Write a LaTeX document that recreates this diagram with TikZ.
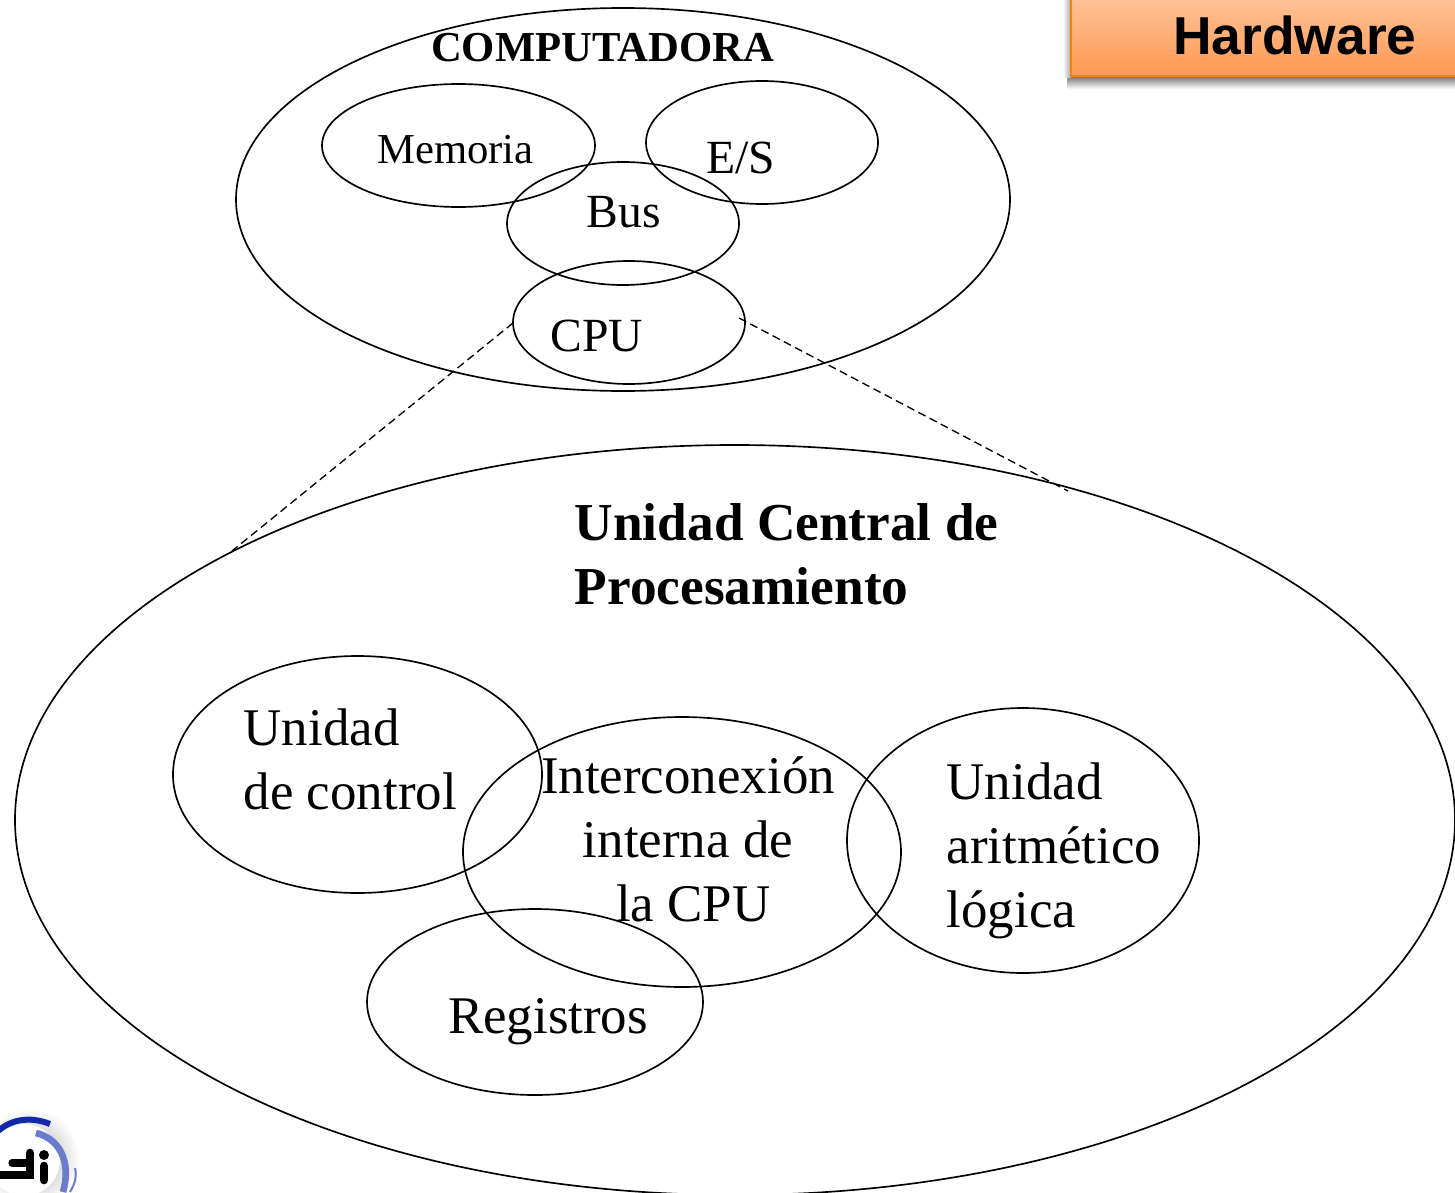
\documentclass[tikz,border=0pt]{standalone}
\usepackage{fontspec}
\setmainfont{Liberation Serif}
\newfontfamily\boxfont{Liberation Sans}
\usetikzlibrary{shapes.geometric}
\definecolor{boxtop}{RGB}{255,203,165}
\definecolor{boxbottom}{RGB}{255,153,82}
\definecolor{boxline}{RGB}{255,128,0}
\definecolor{logodark}{RGB}{20,40,170}
\definecolor{logolight}{RGB}{105,125,205}
\tikzset{
  oval/.style 2 args={ellipse,draw,line width=1.25pt,inner sep=0pt,minimum width=#1*0.75pt,minimum height=#2*0.75pt},
  zoomline/.style={line width=1pt,dash pattern=on 6pt off 3.5pt},
  small/.style={font=\fontsize{32}{38}\selectfont},
  medium/.style={font=\fontsize{35.7}{42}\selectfont},
  large/.style={font=\fontsize{39.7}{48}\selectfont,align=left,anchor=west},
  title/.style={font=\bfseries\fontsize{40}{48}\selectfont,align=left,anchor=west}
}
\begin{document}
\begin{tikzpicture}[x=0.75pt,y=-0.75pt]
    \clip (0,0) rectangle (1455,1192);

    % Shadow of the Hardware label
    \shade[top color=black!55,bottom color=white] (1067,76) rectangle (1455,89);
    \shade[left color=white,right color=black!35] (1063,0) rectangle (1071,77);

    % Hardware label in the corner
    \node[draw=boxline,line width=1.6pt,top color=boxtop,bottom color=boxbottom,
      minimum width=412*0.75pt,minimum height=96*0.75pt,inner sep=0pt] (hardwarebox) at (1277,28) {};
    \node[font=\boxfont\bfseries\fontsize{40}{46}\selectfont] (hardware) at (1295,35) {Hardware};

    % Top group
    \node[oval={774}{383}] (computadora) at (623,199.5) {};
    \node[oval={273}{123}] (memoria) at (458.5,145.5) {};
    \node[oval={232}{123}] (es) at (762,142.5) {};
    \node[oval={232}{123}] (bus) at (623,223.5) {};
    \node[oval={232}{123}] (cpu) at (629,322.5) {};
    \node[font=\bfseries\fontsize{32}{38}\selectfont] (computadoralabel) at (602.5,48) {COMPUTADORA};
    \node[small] (memorialabel) at (455.5,149.5) {Memoria};
    \node[medium] (eslabel) at (740.5,158) {E/S};
    \node[medium] (buslabel) at (623.5,212.5) {Bus};
    \node[medium] (cpulabel) at (597,336) {CPU};

    % Bottom group
    \node[oval={1440}{750}] (unidad) at (735,820) {};
    \node[oval={369}{237}] (control) at (357.5,774.5) {};
    \node[oval={438}{270}] (interna) at (682,852) {};
    \node[oval={352}{265}] (alu) at (1023,840.5) {};
    \node[oval={336}{186}] (registros) at (535,1002) {};
    \node[title] (unidadlabel) at (570,554) {Unidad Central de\\Procesamiento};
    \node[large] (controllabel) at (239,759) {Unidad\\de control};
    \node[large,align=center,anchor=center] (internalabel) at (688,839) {Interconexi\'on\\interna de\\\hspace*{8pt}la CPU};
    \node[large] (alulabel) at (942,851) {Unidad\\aritm\'etico\\l\'ogica};
    \node[large,anchor=center] (registroslabel) at (548,1022) {Registros};

    % Dashed lines from the CPU to the bottom group
    \coordinate (cpuleft) at (513,323);
    \coordinate (cpuright) at (739,318);
    \coordinate (unidadleft) at (232,551);
    \coordinate (unidadright) at (1068,491);
    \draw[zoomline] (cpuleft) -- (unidadleft);
    \draw[zoomline] (cpuright) -- (unidadright);

    % Logo
    \shade[inner color=black!35,outer color=white] (30,1158) circle (50*0.75pt);
    \fill[white] (24,1160) circle (36*0.75pt);
    \draw[logodark,line width=4.5pt] (-4,1133) .. controls (10,1119) and (30,1116) .. (50,1124);
    \draw[logolight,line width=5pt] (36,1133) .. controls (58,1138) and (72,1160) .. (63,1192);
    \draw[logolight,line width=1.5pt] (70,1192) .. controls (75,1184) and (77,1176) .. (75,1168);
    \draw[line width=6.5pt,line cap=round] (30,1153) -- (30,1175) -- (-2,1175);
    \draw[line width=5.5pt,line cap=round] (30,1163) -- (12,1163);
    \draw[line width=6.5pt,line cap=round] (44,1166) -- (44,1180);
    \fill (44,1155) circle (5*0.75pt);
\end{tikzpicture}
\end{document}
